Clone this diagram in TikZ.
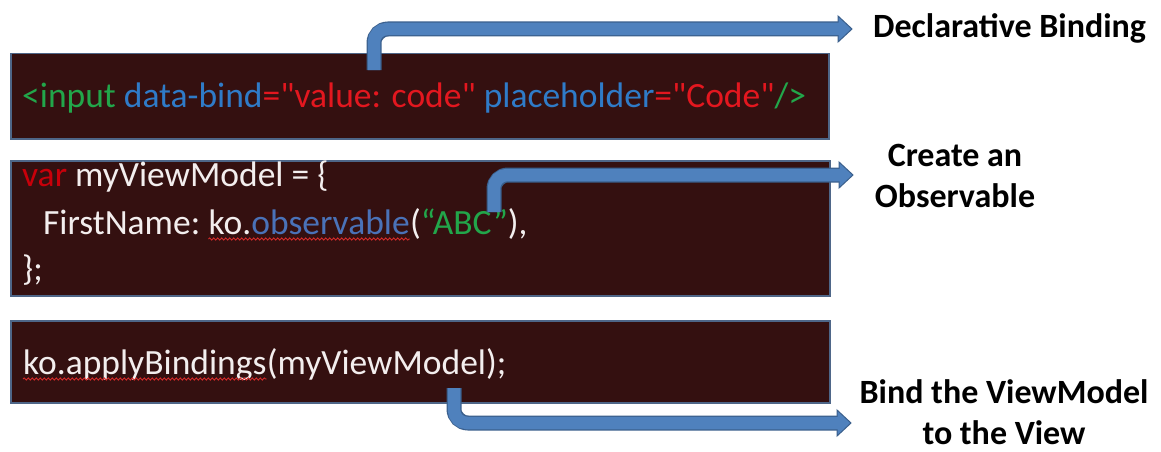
\documentclass[tikz,border=0pt]{standalone}
\usepackage{fontspec}
\setmainfont{Carlito}[Ligatures=TeXOff]
\usetikzlibrary{decorations.pathmorphing}
\definecolor{boxfill}{HTML}{341010}
\definecolor{boxline}{HTML}{4E6688}
\definecolor{arrowfill}{HTML}{4F81BD}
\definecolor{arrowline}{HTML}{3A5F8C}
\definecolor{cgreen}{HTML}{22A64A}
\definecolor{cblue}{HTML}{2F7BC8}
\definecolor{cred}{HTML}{E3171F}
\definecolor{cvar}{HTML}{C8000A}
\definecolor{cobs}{HTML}{4A72B8}
\definecolor{cwhite}{HTML}{F3EEEE}
\definecolor{squigred}{HTML}{D42A2A}
\tikzset{
  codebox/.style={draw=boxline, fill=boxfill, line width=1.5pt, inner sep=0pt, anchor=north west},
  code/.style={inner sep=0pt, anchor=base west, text=cwhite, font=\fontsize{35.5}{43}\selectfont},
  label/.style={inner sep=0pt, align=center, text=black, font=\fontsize{34}{41}\selectfont\bfseries},
  shaftout/.style={line width=15pt, draw=arrowline, rounded corners=14pt},
  shaftin/.style={line width=12.5pt, draw=arrowfill, rounded corners=13pt},
  headstyle/.style={fill=arrowfill, draw=arrowline, line width=1pt, line join=miter},
  squig/.style={draw=squigred, line width=0.9pt, decorate, decoration={snake, segment length=4pt, amplitude=1.1pt}}
}
\begin{document}
\begin{tikzpicture}[x=1pt,y=-1pt]
\useasboundingbox[fill=white] (0,0) rectangle (1161,452);

% boxes
\node[codebox, minimum width=818pt, minimum height=85pt] (b1) at (10,53) {};
\node[codebox, minimum width=819pt, minimum height=135pt] (b2) at (10,160) {};
\node[codebox, minimum width=819pt, minimum height=82pt] (b3) at (10,320) {};

% code texts
\node[code] (t1) at (22,107) {\color{cgreen}<input \color{cblue}data-bind\color{cred}="value: code" \color{cblue}placeholder\color{cred}="Code"\color{cgreen}/>};

\node[code] (t2a) at (22,186) {\color{cvar}var \color{cwhite}myViewModel = \{};
\node[code] (t2b) at (43,234) {FirstName:~\null};
\node[code] (t2c) at (t2b.base east) {ko.\color{cobs}observable};
\node[code] (t2d) at (t2c.base east) {(\color{cgreen}“ABC”\color{cwhite}),};
\node[code] (t2e) at (22,280) {\};};

\node[code] (t3a) at (23,374) {ko.applyBindings};
\node[code] (t3b) at (t3a.base east) {(myViewModel);};

\draw[squig] ([yshift=-5pt]t2c.base west) -- ([yshift=-5pt]t2c.base east);
\draw[squig] ([yshift=-5pt]t3a.base west) -- ([yshift=-5pt]t3a.base east);

% labels
\node[label, anchor=west] (lab1) at (873,28) {Declarative Binding};
\node[label] (lab2) at (955,176) {Create an\\Observable};
\node[label] (lab3) at (1004,412) {Bind the ViewModel\\to the View};

% arrow coordinates
\coordinate (s1) at (374,70);
\coordinate (h1) at (838,29);
\coordinate (s2) at (494,212);
\coordinate (h2) at (839,175);
\coordinate (s3) at (454,388);
\coordinate (h3) at (837,423);

% arrow 1
\draw[shaftout] (s1) |- (h1);
\filldraw[headstyle] (h1) ++(0,-13) -- ++(14,13) -- ++(-14,13) -- cycle;
\draw[shaftin] (s1) |- ([xshift=1.5pt]h1);
% arrow 2
\draw[shaftout] (s2) |- (h2);
\filldraw[headstyle] (h2) ++(0,-13) -- ++(14,13) -- ++(-14,13) -- cycle;
\draw[shaftin] (s2) |- ([xshift=1.5pt]h2);
% arrow 3
\draw[shaftout] (s3) |- (h3);
\filldraw[headstyle] (h3) ++(0,-13) -- ++(14,13) -- ++(-14,13) -- cycle;
\draw[shaftin] (s3) |- ([xshift=1.5pt]h3);
\end{tikzpicture}
\end{document}
